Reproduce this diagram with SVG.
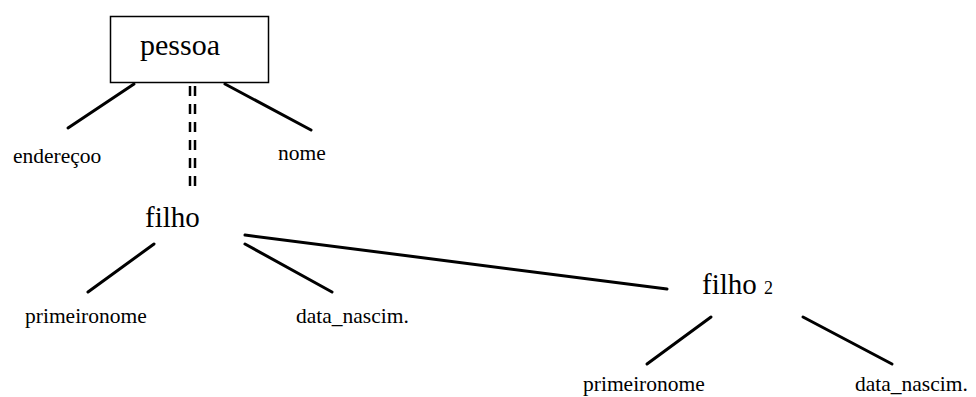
<svg xmlns="http://www.w3.org/2000/svg" width="976" height="397" viewBox="0 0 976 397">
  <style>
    text { font-family: "Liberation Serif", "Times New Roman", serif; fill: #000; }
    .big { font-size: 29px; }
    .lbl { font-size: 21.5px; }
    .sub { font-size: 18px; }
    .edge { stroke: #000; stroke-width: 3; stroke-linecap: round; fill: none; }
    .dbl { stroke: #000; stroke-width: 2.5; stroke-dasharray: 10 8; fill: none; }
  </style>
  <rect width="976" height="397" fill="#fff"/>

  <g id="connectors">
    <line class="edge" x1="134" y1="84" x2="68" y2="128"/>
    <line class="edge" x1="225" y1="84" x2="311" y2="130"/>
    <line class="dbl" x1="190" y1="86" x2="190" y2="194"/>
    <line class="dbl" x1="195" y1="86" x2="195" y2="194"/>
    <line class="edge" x1="245" y1="235" x2="667" y2="289"/>
    <line class="edge" x1="154" y1="244" x2="88" y2="292"/>
    <line class="edge" x1="245" y1="244" x2="332" y2="292"/>
    <line class="edge" x1="711" y1="317" x2="647" y2="364"/>
    <line class="edge" x1="803" y1="317" x2="892" y2="364"/>
  </g>

  <g id="pessoa">
    <rect x="110.5" y="16.5" width="158" height="66" fill="#fff" stroke="#000" stroke-width="1.5"/>
    <text x="140" y="55" font-size="30">pessoa</text>
  </g>
  <g id="enderecoo"><text class="lbl" x="13" y="163" font-size="23">endereçoo</text></g>
  <g id="nome"><text class="lbl" x="278" y="160">nome</text></g>
  <g id="filho"><text class="big" x="145" y="227">filho</text></g>
  <g id="primeironome1"><text class="lbl" x="25" y="323">primeironome</text></g>
  <g id="data_nascim1"><text class="lbl" x="296" y="323">data_nascim.</text></g>
  <g id="filho2"><text class="big" x="702" y="294">filho <tspan class="sub">2</tspan></text></g>
  <g id="primeironome2"><text class="lbl" x="583" y="391">primeironome</text></g>
  <g id="data_nascim2"><text class="lbl" x="855" y="391">data_nascim.</text></g>
</svg>
